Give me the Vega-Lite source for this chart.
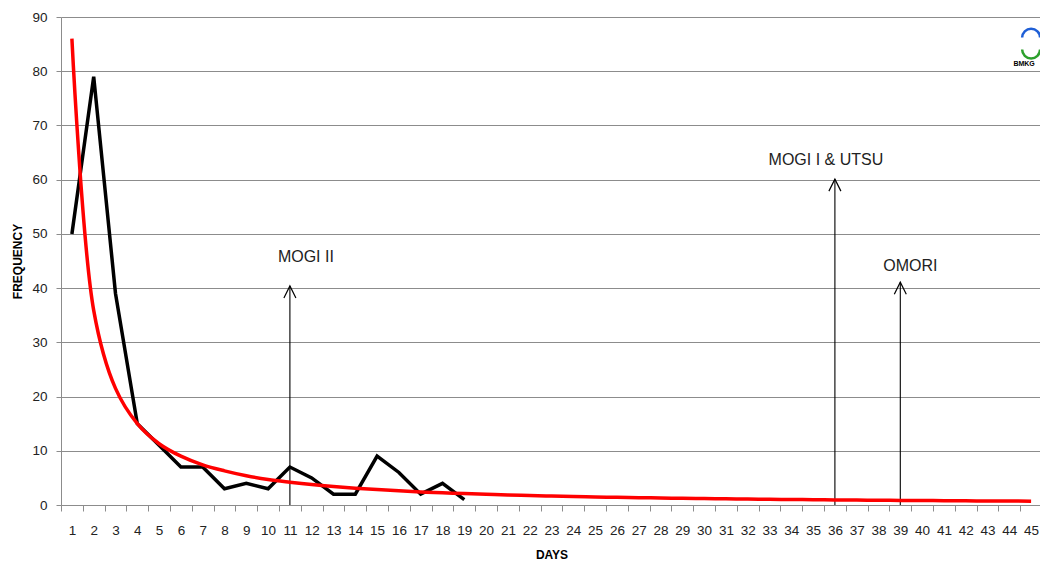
{
  "$schema": "https://vega.github.io/schema/vega-lite/v6.json",
  "width": 1040,
  "height": 562,
  "autosize": {"type": "fit", "contains": "padding"},
  "padding": {"left": 11, "top": 10, "right": -5, "bottom": 1},
  "background": "#ffffff",
  "config": {"view": {"stroke": null}, "font": "Liberation Sans"},
  "datasets": {
    "obs": [
      {"day": 1, "freq": 50}, {"day": 2, "freq": 79}, {"day": 3, "freq": 39}, {"day": 4, "freq": 15},
      {"day": 5, "freq": 11}, {"day": 6, "freq": 7}, {"day": 7, "freq": 7}, {"day": 8, "freq": 3},
      {"day": 9, "freq": 4}, {"day": 10, "freq": 3}, {"day": 11, "freq": 7}, {"day": 12, "freq": 5},
      {"day": 13, "freq": 2}, {"day": 14, "freq": 2}, {"day": 15, "freq": 9}, {"day": 16, "freq": 6},
      {"day": 17, "freq": 2}, {"day": 18, "freq": 4}, {"day": 19, "freq": 1}
    ],
    "fit": [
      {"day": 1, "freq": 86}, {"day": 2, "freq": 35.9}, {"day": 3, "freq": 21.5}, {"day": 4, "freq": 15.0},
      {"day": 5, "freq": 11.3}, {"day": 6, "freq": 9.0}, {"day": 7, "freq": 7.4}, {"day": 8, "freq": 6.3},
      {"day": 9, "freq": 5.4}, {"day": 10, "freq": 4.7}, {"day": 11, "freq": 4.2}, {"day": 12, "freq": 3.76},
      {"day": 13, "freq": 3.4}, {"day": 14, "freq": 3.1}, {"day": 15, "freq": 2.84}, {"day": 16, "freq": 2.61},
      {"day": 17, "freq": 2.42}, {"day": 18, "freq": 2.25}, {"day": 19, "freq": 2.11}, {"day": 20, "freq": 1.97},
      {"day": 21, "freq": 1.86}, {"day": 22, "freq": 1.75}, {"day": 23, "freq": 1.65}, {"day": 24, "freq": 1.57},
      {"day": 25, "freq": 1.49}, {"day": 26, "freq": 1.42}, {"day": 27, "freq": 1.35}, {"day": 28, "freq": 1.29},
      {"day": 29, "freq": 1.24}, {"day": 30, "freq": 1.18}, {"day": 31, "freq": 1.14}, {"day": 32, "freq": 1.09},
      {"day": 33, "freq": 1.05}, {"day": 34, "freq": 1.01}, {"day": 35, "freq": 0.98}, {"day": 36, "freq": 0.94},
      {"day": 37, "freq": 0.91}, {"day": 38, "freq": 0.88}, {"day": 39, "freq": 0.85}, {"day": 40, "freq": 0.82},
      {"day": 41, "freq": 0.8}, {"day": 42, "freq": 0.77}, {"day": 43, "freq": 0.75}, {"day": 44, "freq": 0.73},
      {"day": 45, "freq": 0.71}
    ],
    "arrows": [
      {"day": 11, "top": 40.4, "base": 0, "label": "MOGI II", "ly": 45.7},
      {"day": 36, "top": 60.1, "base": 0, "label": "MOGI I & UTSU", "ly": 63.6},
      {"day": 39, "top": 41.1, "base": 0, "label": "OMORI", "ly": 44.1}
    ],
    "logo": [
      {"day": 45, "blue": 86.2, "green": 84.0, "txt": 81.3}
    ]
  },
  "encoding": {
    "x": {
      "field": "day",
      "type": "ordinal",
      "scale": {
        "domain": [1,2,3,4,5,6,7,8,9,10,11,12,13,14,15,16,17,18,19,20,21,22,23,24,25,26,27,28,29,30,31,32,33,34,35,36,37,38,39,40,41,42,43,44,45],
        "paddingInner": 0,
        "paddingOuter": 0
      },
      "axis": {
        "title": "DAYS",
        "titleFontSize": 12,
        "titleFontWeight": "bold",
        "titleColor": "#000000",
        "titlePadding": 13,
        "labelAngle": 0,
        "labelFontSize": 13.5,
        "labelColor": "#222222",
        "labelPadding": 12,
        "tickBand": "extent",
        "tickSize": 6,
        "tickColor": "#8c8c8c",
        "domainColor": "#8c8c8c",
        "grid": false
      }
    }
  },
  "layer": [
    {
      "data": {"name": "arrows"},
      "mark": {"type": "rule", "color": "#000000", "strokeWidth": 1.1},
      "encoding": {
        "y": {
          "field": "top",
          "type": "quantitative",
          "scale": {"domain": [0, 90], "nice": false},
          "axis": {
            "title": "FREQUENCY",
            "titleFontSize": 12,
            "titleFontWeight": "bold",
            "titleColor": "#000000",
            "titlePadding": 7,
            "values": [0,10,20,30,40,50,60,70,80,90],
            "labelFontSize": 13.5,
            "labelColor": "#222222",
            "labelPadding": 9,
            "tickSize": 5,
            "tickColor": "#8c8c8c",
            "domainColor": "#8c8c8c",
            "grid": true,
            "gridColor": "#8c8c8c",
            "gridWidth": 1
          }
        },
        "y2": {"field": "base"}
      }
    },
    {
      "data": {"name": "arrows"},
      "mark": {"type": "point", "shape": "M-0.5,1L0,0L0.5,1", "filled": false, "stroke": "#000000", "strokeWidth": 1.2, "size": 576, "opacity": 1},
      "encoding": {"y": {"field": "top", "type": "quantitative"}}
    },
    {
      "data": {"name": "arrows"},
      "transform": [{"filter": "datum.day == 11"}],
      "mark": {"type": "text", "fontSize": 16, "color": "#222222", "align": "center", "baseline": "middle", "dx": 16},
      "encoding": {"y": {"field": "ly", "type": "quantitative"}, "text": {"field": "label"}}
    },
    {
      "data": {"name": "arrows"},
      "transform": [{"filter": "datum.day == 36"}],
      "mark": {"type": "text", "fontSize": 16, "color": "#222222", "align": "center", "baseline": "middle", "dx": -9},
      "encoding": {"y": {"field": "ly", "type": "quantitative"}, "text": {"field": "label"}}
    },
    {
      "data": {"name": "arrows"},
      "transform": [{"filter": "datum.day == 39"}],
      "mark": {"type": "text", "fontSize": 16, "color": "#222222", "align": "center", "baseline": "middle", "dx": 10},
      "encoding": {"y": {"field": "ly", "type": "quantitative"}, "text": {"field": "label"}}
    },
    {
      "data": {"name": "obs"},
      "mark": {"type": "line", "color": "#000000", "strokeWidth": 3.5},
      "encoding": {"y": {"field": "freq", "type": "quantitative"}}
    },
    {
      "data": {"name": "fit"},
      "mark": {"type": "line", "color": "#ff0000", "strokeWidth": 3.5, "interpolate": "catmull-rom"},
      "encoding": {"y": {"field": "freq", "type": "quantitative"}}
    },
    {
      "data": {"name": "logo"},
      "mark": {"type": "point", "shape": "M-1,0A1,1 0 0,1 1,0", "filled": false, "stroke": "#1f5fd6", "strokeWidth": 2.5, "size": 320, "opacity": 1, "dx": -7},
      "encoding": {"y": {"field": "blue", "type": "quantitative"}}
    },
    {
      "data": {"name": "logo"},
      "mark": {"type": "point", "shape": "M-1,0A1,1 0 0,0 1,0", "filled": false, "stroke": "#2ca02c", "strokeWidth": 2.5, "size": 320, "opacity": 1, "dx": -7},
      "encoding": {"y": {"field": "green", "type": "quantitative"}}
    },
    {
      "data": {"name": "logo"},
      "mark": {"type": "text", "text": "BMKG", "fontSize": 7, "fontWeight": "bold", "color": "#000000", "dx": -7},
      "encoding": {"y": {"field": "txt", "type": "quantitative"}}
    }
  ]
}
